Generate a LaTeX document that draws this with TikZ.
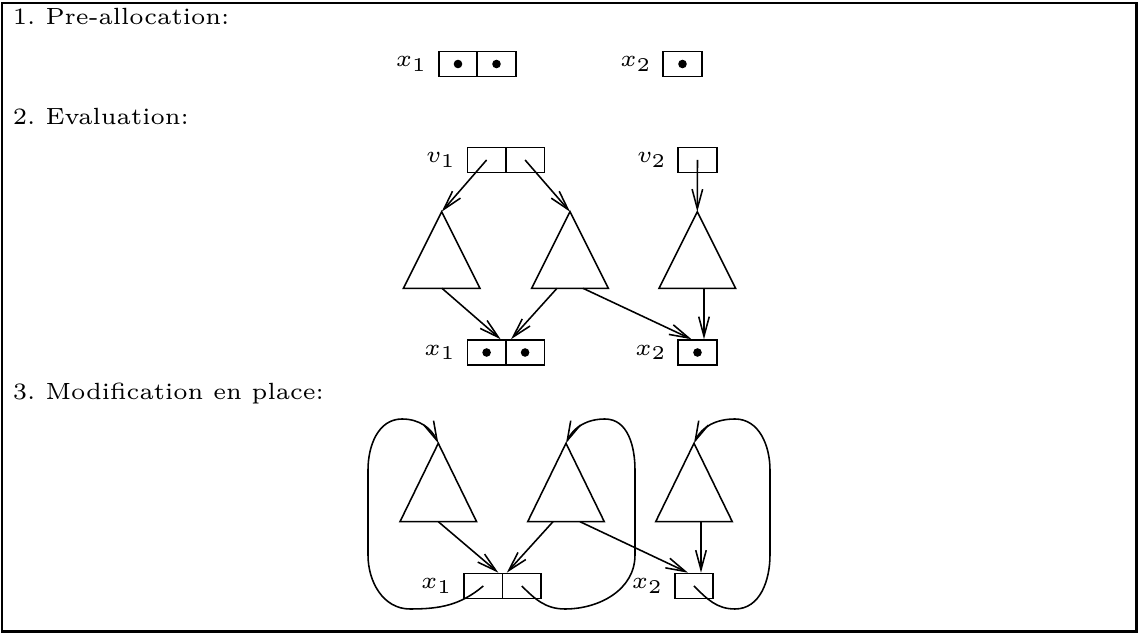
\documentclass[tikz,border=0pt]{standalone}
\usetikzlibrary{arrows.meta,positioning,calc}
\begin{document}
\begin{tikzpicture}[x=0.256pt,y=-0.256pt,font=\fontsize{6}{7}\selectfont,
    cell/.style={draw,minimum width=9.86pt,minimum height=6.4pt,inner sep=0pt},
    dot/.style={circle,fill,inner sep=0pt,minimum size=2.2pt},
    lab/.style={inner sep=0.5pt},
    ptr/.style={-{Straight Barb[length=5pt,width=2.7pt]}},
    head/.style={anchor=base west,inner sep=0pt}]
       \useasboundingbox (0,0) rectangle (1138,633);
       \draw[line width=0.6pt] (2,3) rectangle (1136.5,631.5);
       % 1. pre-allocation
       \node[head] (h1) at (12,25) {1.\hspace{2.6pt}Pre-allocation:};
       \node[cell] (x1a) at (458,64) {};
       \node[cell] (x1b) at (496.5,64) {};
       \node[cell] (x2a) at (682.5,64) {};
       \node[dot] (d1) at (x1a) {};
       \node[dot] (d2) at (x1b) {};
       \node[dot] (d3) at (x2a) {};
       \node[lab,left=2pt of x1a] (lx1a) {$x_1$};
       \node[lab,left=2pt of x2a] (lx2a) {$x_2$};
       % 2. evaluation
       \node[head] (h2) at (12,125) {2.\hspace{2.6pt}Evaluation:};
       \node[cell] (v1a) at (486.6,160) {};
       \node[cell] (v1b) at (525.1,160) {};
       \node[cell] (v2) at (697.5,160) {};
       \node[lab,left=2pt of v1a] (lv1) {$v_1$};
       \node[lab,left=2pt of v2] (lv2) {$v_2$};
       \coordinate (t1) at (441.7,211.7);
       \coordinate (t2) at (570,211.7);
       \coordinate (t3) at (697.3,211.7);
       \draw (t1) -- ++(-38.3,76.6) -- ++(76.6,0) -- cycle;
       \draw (t2) -- ++(-38.3,76.6) -- ++(76.6,0) -- cycle;
       \draw (t3) -- ++(-38.3,76.6) -- ++(76.6,0) -- cycle;
       \draw[ptr] (v1a.center) -- (t1);
       \draw[ptr] (v1b.center) -- (t2);
       \draw[ptr] (v2.center) -- (t3);
       \node[cell] (x1c) at (486.6,352.5) {};
       \node[cell] (x1d) at (525.1,352.5) {};
       \node[cell] (x2c) at (697.5,352.5) {};
       \node[dot] (d4) at (x1c) {};
       \node[dot] (d5) at (x1d) {};
       \node[dot] (d6) at (x2c) {};
       \node[lab,left=2pt of x1c] (lx1c) {$x_1$};
       \node[lab,left=2pt of x2c] (lx2c) {$x_2$};
       \coordinate (b1) at (442,288.3);
       \coordinate (b2) at (557,288.3);
       \coordinate (b3) at (583,288.3);
       \coordinate (b4) at (704,288.3);
       \draw[ptr] (b1) -- ($(x1c.north east)+(-6,0)$);
       \draw[ptr] (b2) -- ($(x1d.north west)+(6,0)$);
       \draw[ptr] (b3) -- ($(x2c.north)+(-6,0)$);
       \draw[ptr] (b4) -- (x2c.north -| b4);
       % 3. modification en place
       \node[head] (h3) at (12,400) {3.\hspace{2.6pt}Modification en place:};
       \coordinate (t4) at (438.3,443.3);
       \coordinate (t5) at (566,443.3);
       \coordinate (t6) at (694,443.3);
       \draw (t4) -- ++(-38.3,78.4) -- ++(76.6,0) -- cycle;
       \draw (t5) -- ++(-38.3,78.4) -- ++(76.6,0) -- cycle;
       \draw (t6) -- ++(-38.3,78.4) -- ++(76.6,0) -- cycle;
       \node[cell] (x1e) at (483.3,586) {};
       \node[cell] (x1f) at (521.8,586) {};
       \node[cell] (x2e) at (694,586) {};
       \node[lab,left=2pt of x1e] (lx1e) {$x_1$};
       \node[lab,left=2pt of x2e] (lx2e) {$x_2$};
       \coordinate (b5) at (438.3,521.7);
       \coordinate (b6) at (553,521.7);
       \coordinate (b7) at (580,521.7);
       \coordinate (b8) at (701,521.7);
       \draw[ptr] (b5) -- ($(x1e.north east)+(-5,0)$);
       \draw[ptr] (b6) -- ($(x1f.north west)+(5,0)$);
       \draw[ptr] (b7) -- ($(x2e.north)+(-6,0)$);
       \draw[ptr] (b8) -- (x2e.north -| b8);
       \draw[ptr] (x1e.center) to[out=-140,in=0] (410,609) to[out=180,in=-90] (368,555)
          -- (368,470) to[out=90,in=180] (402,419) to[out=0,in=115] (t4);
       \draw[ptr] (x1f.center) to[out=-45,in=180] (565,609) to[out=0,in=-90] (635,555)
          -- (635,470) to[out=90,in=0] (605,419) to[out=180,in=65] (t5);
       \draw[ptr] (x2e.center) to[out=-45,in=180] (735,609) to[out=0,in=-90] (770,555)
          -- (770,470) to[out=90,in=0] (735,419) to[out=180,in=65] (t6);
\end{tikzpicture}
\end{document}
